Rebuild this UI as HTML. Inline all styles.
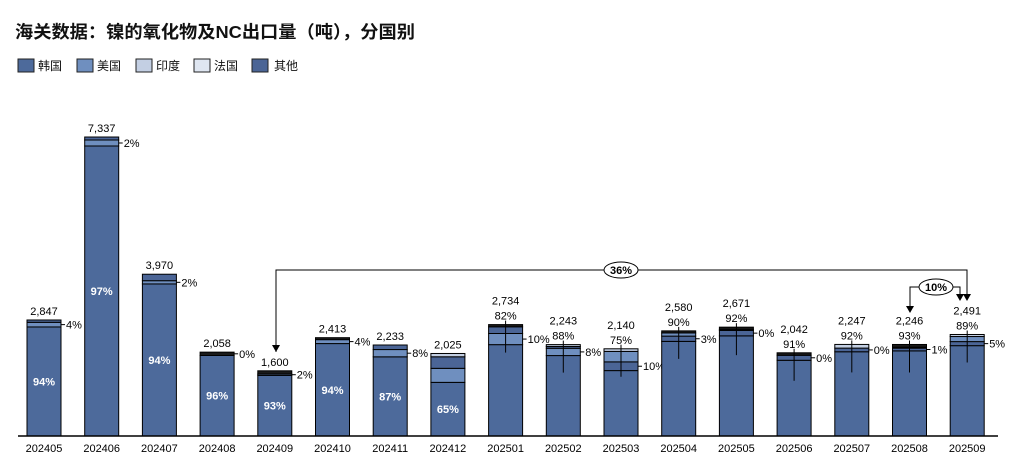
<!DOCTYPE html>
<html><head><meta charset="utf-8"><style>
body{margin:0;background:#fff;}
svg text{font-family:"Liberation Sans","Noto Sans CJK SC",sans-serif;}
</style></head><body>
<svg width="1015" height="464" xmlns="http://www.w3.org/2000/svg" id="s">
<text x="15" y="38" font-size="17.5" font-weight="bold" fill="#111" textLength="400" lengthAdjust="spacingAndGlyphs">海关数据：镍的氧化物及NC出口量（吨），分国别</text>
<g font-size="12" fill="#111">
<rect x="18" y="59" width="16" height="13" fill="#4d6a9b" stroke="#222"/><text x="38" y="70">韩国</text>
<rect x="77" y="59" width="16" height="13" fill="#6f8fbf" stroke="#222"/><text x="97" y="70">美国</text>
<rect x="136" y="59" width="16" height="13" fill="#c3cfe3" stroke="#222"/><text x="156" y="70">印度</text>
<rect x="194" y="59" width="16" height="13" fill="#dfe6f1" stroke="#222"/><text x="214" y="70">法国</text>
<rect x="252" y="59" width="16" height="13" fill="#4b6596" stroke="#222"/><text x="274" y="70">其他</text>
</g>
<g id="bars"></g>
<line x1="18" y1="436" x2="998" y2="436" stroke="#000" stroke-width="1.5"/>
<g stroke="#000" stroke-width="1" fill="none">
<polyline points="276,352 276,270 967,270 967,298"/>
<polyline points="910,312 910,287 960,287 960,298"/>
</g>
<g fill="#000">
<polygon points="272,345 280,345 276,352"/>
<polygon points="963,294 971,294 967,301"/>
<polygon points="906,306 914,306 910,313"/>
<polygon points="956,294 964,294 960,301"/>
</g>
<ellipse cx="621" cy="270" rx="17" ry="8" fill="#fff" stroke="#000"/>
<text x="621" y="274" font-size="11" font-weight="bold" text-anchor="middle">36%</text>
<ellipse cx="936" cy="287" rx="17" ry="8" fill="#fff" stroke="#000"/>
<text x="936" y="291" font-size="11" font-weight="bold" text-anchor="middle">10%</text>
</svg>
<script>
var K="#4d6a9b",U="#6f8fbf",I="#c3cfe3",O="#4b6596",B="#1a1a1a";
var d=[
["202405",2847,[[.94,K],[.04,U],[.02,O]],"94%","4%",0],
["202406",7337,[[.97,K],[.02,U],[.01,O]],"97%","2%",0],
["202407",3970,[[.94,K],[.02,U],[.04,O]],"94%","2%",0],
["202408",2058,[[.96,K],[.04,B]],"96%","0%",0],
["202409",1600,[[.93,K],[.02,U],[.05,B]],"93%","2%",0],
["202410",2413,[[.94,K],[.04,U],[.02,B]],"94%","4%",0],
["202411",2233,[[.87,K],[.08,U],[.05,O]],"87%","8%",0],
["202412",2025,[[.65,K],[.17,U],[.14,O],[.04,I]],"65%","",0],
["202501",2734,[[.82,K],[.10,U],[.06,O],[.02,B]],"82%","10%",1],
["202502",2243,[[.88,K],[.08,U],[.02,O],[.02,I]],"88%","8%",1],
["202503",2140,[[.75,K],[.10,O],[.12,U],[.03,I]],"75%","10%",1],
["202504",2580,[[.90,K],[.05,O],[.03,U],[.02,B]],"90%","3%",1],
["202505",2671,[[.92,K],[.05,O],[.01,U],[.02,B]],"92%","0%",1],
["202506",2042,[[.91,K],[.06,O],[.03,B]],"91%","0%",1],
["202507",2247,[[.92,K],[.04,O],[.04,I]],"92%","0%",1],
["202508",2246,[[.93,K],[.03,O],[.01,U],[.03,B]],"93%","1%",1],
["202509",2491,[[.89,K],[.04,O],[.05,U],[.02,I]],"89%","5%",1]];
var s=0.04075,g="",base=436;
d.forEach(function(b,i){
var cx=44+i*57.7,x=cx-17,h=b[1]*s,top=base-h,y=base,kMid=0,usY=0;
b[2].forEach(function(sg,j){var hh=sg[0]*h;y-=hh;
g+='<rect x="'+x+'" y="'+y+'" width="34" height="'+hh+'" fill="'+sg[1]+'" stroke="#000" stroke-width="1"/>';
if(j==0)kMid=y+hh/2; if(j==1)usY=y+hh/2;});
var tot=b[1].toLocaleString("en-US");
if(b[5]){
g+='<line x1="'+cx+'" y1="'+(top-4)+'" x2="'+cx+'" y2="'+(top+28)+'" stroke="#000"/>';
g+='<text x="'+cx+'" y="'+(top-20)+'" font-size="11" text-anchor="middle">'+tot+'</text>';
g+='<text x="'+cx+'" y="'+(top-5)+'" font-size="11" text-anchor="middle">'+b[3]+'</text>';
}else{
g+='<text x="'+cx+'" y="'+(top-5)+'" font-size="11" text-anchor="middle">'+tot+'</text>';
g+='<text x="'+cx+'" y="'+(kMid+4)+'" font-size="11" font-weight="bold" fill="#fff" text-anchor="middle">'+b[3]+'</text>';
}
if(b[4]){g+='<line x1="'+(cx+17)+'" y1="'+usY+'" x2="'+(cx+21)+'" y2="'+usY+'" stroke="#000"/>';
g+='<text x="'+(cx+22)+'" y="'+(usY+4)+'" font-size="11">'+b[4]+'</text>';}
g+='<text x="'+cx+'" y="452" font-size="11" text-anchor="middle">'+b[0]+'</text>';
});
document.getElementById("bars").innerHTML=g;
</script>
</body></html>
